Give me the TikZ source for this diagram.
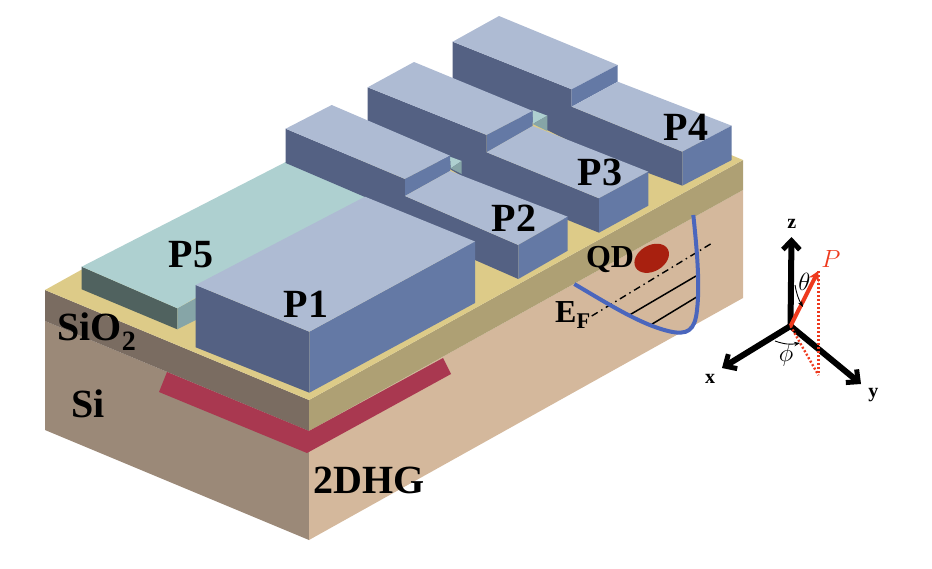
\documentclass[tikz,border=0pt]{standalone}
\usepackage{fontspec}
\setmainfont{Liberation Serif}
\usepackage{amsmath}
\usetikzlibrary{shapes.geometric, arrows.meta, positioning, calc}
\definecolor{gatetopc}{HTML}{AEBBD3}
\definecolor{gateleftc}{HTML}{546183}
\definecolor{gaterightc}{HTML}{6479A5}
\definecolor{redarrow}{HTML}{EE3A1E}
\definecolor{tealtop}{HTML}{AED0D0}
\definecolor{tealside}{HTML}{86A5A7}
\begin{document}
\begin{tikzpicture}[
    x=1pt, y=-1pt,
    every node/.style={inner sep=0pt},
    lbl/.style={font=\bfseries\fontsize{40}{40}\selectfont},
    smalllbl/.style={font=\bfseries\fontsize{32}{32}\selectfont},
    axlbl/.style={font=\bfseries\fontsize{20}{20}\selectfont},
    anglbl/.style={font=\fontsize{25}{25}\selectfont},
    gatetop/.style={fill=gatetopc},
    gateleft/.style={fill=gateleftc},
    gateright/.style={fill=gaterightc},
    axis/.style={line width=6pt, -{Straight Barb[length=9pt,width=17pt,line width=5pt]}},
    angarc/.style={line width=0.9pt, -{Stealth[length=6pt]}},
    level/.style={line width=1.5pt},
    redline/.style={line width=2.4pt, dash pattern=on 2pt off 2pt, draw=redarrow}
]
\useasboundingbox (0,0) rectangle (932,568);
% Substrate: Si below, SiO2 above
\fill[fill={rgb,255:red,155;green,137;blue,120}] (45,321) -- (309,431) -- (309,540) -- (45,430) -- cycle;
\fill[fill={rgb,255:red,212;green,184;blue,156}] (309,431) -- (743,190) -- (743,298) -- (309,540) -- cycle;
\fill[fill={rgb,255:red,122;green,108;blue,97}] (45,290) -- (309,400) -- (309,431) -- (45,321) -- cycle;
\fill[fill={rgb,255:red,174;green,160;blue,116}] (309,400) -- (743,160) -- (743,190) -- (309,431) -- cycle;
\fill[fill={rgb,255:red,221;green,203;blue,136}] (45,290) -- (309,400) -- (743,160) -- (600,100) -- (300,170) -- (81,270) -- cycle;
% 2DHG band
\fill[fill={rgb,255:red,169;green,56;blue,80}] (167,372) -- (309,431) -- (443,358) -- (451,374) -- (307,453) -- (159,392) -- cycle;
% P5
\fill[fill={rgb,255:red,80;green,98;blue,95}] (81.7,266.7) -- (177.3,308.3) -- (177.3,329.3) -- (81.7,289.3) -- cycle;
\fill[fill=tealside] (177.3,308.3) -- (200,296) -- (200,318) -- (177.3,329.3) -- cycle;
\fill[fill=tealtop] (81.7,266.7) -- (177.3,308.3) -- (370,198) -- (285.7,162) -- cycle;
% P4
\fill[gateleft] (452.7,41.7) -- (571.7,89.3) -- (571.7,106.7) -- (682.3,151.7) -- (682.3,185.7) -- (648.3,173) -- (600,156) -- (547,130) -- (452.7,79) -- cycle;
\fill[gatetop] (452.7,41.7) -- (499,16) -- (617.7,65) -- (571.7,89.3) -- cycle;
\fill[gateright] (571.7,89.3) -- (617.7,65) -- (617.7,81.7) -- (571.7,106.7) -- cycle;
\fill[gatetop] (571.7,106.7) -- (617.7,81.7) -- (731.7,125.7) -- (682.3,151.7) -- cycle;
\fill[gateright] (682.3,151.7) -- (731.7,125.7) -- (731.7,160) -- (682.3,185.7) -- cycle;
% P3
\fill[gateleft] (367.7,87.3) -- (486.7,135) -- (486.7,152.3) -- (599,198.3) -- (599,232.7) -- (567.7,220) -- (500,196) -- (461.7,176) -- (367.7,121) -- cycle;
\fill[fill=tealtop] (532.3,110) -- (547.3,115.7) -- (532.7,124) -- cycle;
\fill[fill=tealside] (532.7,124) -- (547.3,115.7) -- (547.3,131) -- cycle;
\fill[gatetop] (367.7,87.3) -- (414,62) -- (532.7,111) -- (486.7,135) -- cycle;
\fill[gateright] (486.7,135) -- (532.7,111) -- (532.7,126) -- (486.7,152.3) -- cycle;
\fill[gatetop] (486.7,152.3) -- (532.7,126) -- (648.3,171.7) -- (599,198.3) -- cycle;
\fill[gateright] (599,198.3) -- (648.3,171.7) -- (648.3,205.7) -- (599,232.7) -- cycle;
% P2
\fill[gateleft] (285.7,128.7) -- (405,179) -- (405,196) -- (518.3,245) -- (518.3,279) -- (475,260) -- (365,197) -- (285.7,163) -- cycle;
\fill[fill=tealtop] (450,156.7) -- (461.7,161) -- (450.7,168.3) -- cycle;
\fill[fill=tealside] (450.7,168.3) -- (461.7,161) -- (461.7,174) -- cycle;
\fill[gatetop] (285.7,128.7) -- (331.7,105) -- (450,155.7) -- (405,179) -- cycle;
\fill[gateright] (405,179) -- (450,155.7) -- (450,171) -- (405,196) -- cycle;
\fill[gatetop] (405,196) -- (450,171) -- (567.7,216.7) -- (518.3,245) -- cycle;
\fill[gateright] (518.3,245) -- (567.7,216.7) -- (567.7,250.7) -- (518.3,279) -- cycle;
% P1
\fill[gateleft] (195.7,285) -- (309.3,331.7) -- (309.3,392.7) -- (195.7,347.3) -- cycle;
\fill[gateright] (309.3,331.7) -- (475,241.5) -- (475,303) -- (309.3,392.7) -- cycle;
\fill[gatetop] (195.7,285) -- (365,196.7) -- (475,241.5) -- (309.3,331.7) -- cycle;
% Gate and layer labels
\foreach \x/\y/\name in {191/255/P5, 306/304/P1, 514/218/P2, 600/172/P3, 686/127/P4, 88/404/Si, 369/480/2DHG}{
    \node[lbl] (lbl\name) at (\x,\y) {\name};
}
\node[lbl] (lblox) at (97,332) {SiO\textsubscript{2}};
\node[smalllbl] (lblqd) at (610,259) {QD};
\node[smalllbl] (lblef) at (573,315) {E\textsubscript{F}};
% Quantum well
\node[ellipse, fill={rgb,255:red,168;green,32;blue,15}, minimum width=37pt, minimum height=26pt, rotate=30] (qd) at (651.7,258.3) {};
\coordinate (efl) at (591.7,316);
\coordinate (efr) at (711.7,243.3);
\draw[line width=1.4pt, dash pattern=on 7pt off 4pt on 1.5pt off 4pt] (efl) -- (efr);
\coordinate (la) at (628.3,315.7);
\coordinate (lb) at (696,276);
\coordinate (lc) at (651.7,324.3);
\coordinate (ld) at (698.3,296);
\draw[level] (la) -- (lb);
\draw[level] (lc) -- (ld);
\draw[line width=4pt, draw={rgb,255:red,74;green,102;blue,189}] (574.3,284) .. controls (610,305) and (640,324) .. (668,331) .. controls (688,336) and (695,330) .. (697,310) .. controls (700,285) and (697,250) .. (693.3,215);
% Axes
\coordinate (ori) at (790.5,326);
\coordinate (zend) at (791.5,237);
\coordinate (xend) at (722,368);
\coordinate (yend) at (861,384);
\coordinate (pend) at (818.3,271);
\coordinate (pfoot) at (818.3,375);
\draw[axis] (ori) -- (zend);
\draw[axis] (ori) -- (xend);
\draw[axis] (ori) -- (yend);
\draw[redline] (pend) -- (pfoot);
\draw[redline] (ori) -- (pfoot);
\draw[line width=4pt, draw=redarrow, -{Stealth[length=10pt,width=11pt]}] (ori) -- (pend);
\coordinate (tha) at (795,285);
\coordinate (thb) at (803,307);
\coordinate (pha) at (775,341);
\coordinate (phb) at (800,343);
\draw[angarc] (tha) to[bend right=10] (thb);
\draw[angarc] (pha) to[bend right=15] (phb);
\node[axlbl] (lblz) at (791.7,224) {z};
\node[axlbl] (lblx) at (710,379.3) {x};
\node[axlbl] (lbly) at (873.3,395) {y};
\node[text=redarrow, font=\fontsize{25}{25}\selectfont] (lblp) at (831,259.3) {$P$};
\node[anglbl] (lblth) at (804.3,282.3) {$\theta$};
\node[anglbl] (lblph) at (786,355) {$\phi$};
\end{tikzpicture}
\end{document}
